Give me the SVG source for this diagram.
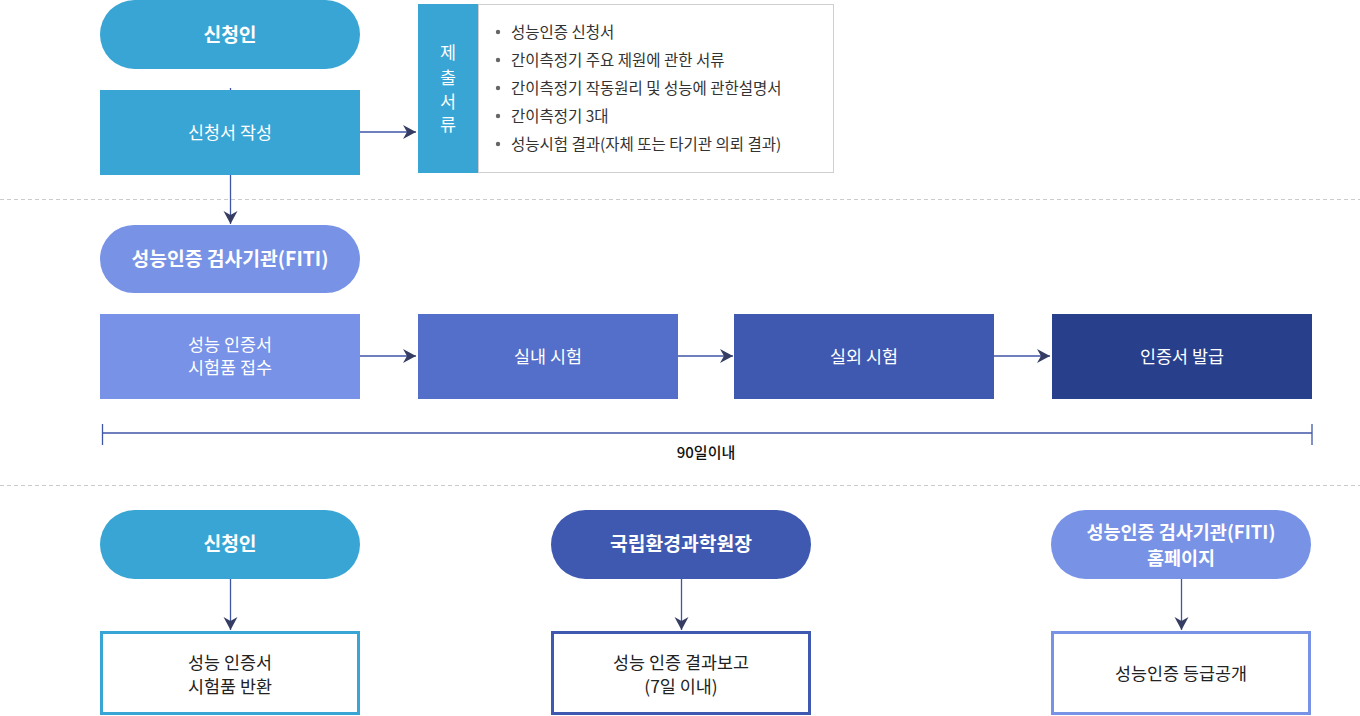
<svg xmlns="http://www.w3.org/2000/svg" width="1360" height="716" viewBox="0 0 1360 716">
<style>
text{font-family:"Noto Sans CJK KR","Noto Sans",sans-serif;text-anchor:middle}
.pt{font-size:19.3px;font-weight:700;fill:#fff}
.pt2{font-size:18.5px;font-weight:700;fill:#fff}
.bt{font-size:17.4px;fill:#fff}
.dt{font-size:15.5px;fill:#333;text-anchor:start}
.wt{font-size:17.4px;fill:#222}
.ln{stroke:#3f55a8;stroke-width:1.3;fill:none}
.dash{stroke:#cccccc;stroke-width:1;stroke-dasharray:4 3}
</style>
<defs>
<marker id="ah" markerUnits="userSpaceOnUse" markerWidth="14" markerHeight="16" refX="13" refY="7" orient="auto">
<path d="M0,0 L13,7 L0,14 L4,7 Z" fill="#353d62"/>
</marker>
</defs>
<rect width="1360" height="716" fill="#fff"/>
<line class="dash" x1="0" y1="199.5" x2="1360" y2="199.5"/>
<line class="dash" x1="0" y1="485.5" x2="1360" y2="485.5"/>

<g id="applicant-top">
<rect x="100" y="0" width="260" height="69" rx="34.5" fill="#39a5d4"/>
<text class="pt" x="230" y="42">신청인</text>
</g>
<g id="write-application">
<rect x="100" y="90" width="260" height="85" fill="#39a5d4"/>
<text class="bt" x="230" y="138.5">신청서 작성</text>
</g>
<g id="documents">
<rect x="418" y="4" width="60" height="169" fill="#39a5d4"/>
<rect x="478.5" y="4.5" width="355" height="168" fill="#fff" stroke="#cfcfcf" stroke-width="1"/>
<text class="bt" x="448" y="59">제</text>
<text class="bt" x="448" y="84">출</text>
<text class="bt" x="448" y="108">서</text>
<text class="bt" x="448" y="131">류</text>
<g fill="#666">
<circle cx="498" cy="32" r="2.2"/>
<circle cx="498" cy="60" r="2.2"/>
<circle cx="498" cy="88" r="2.2"/>
<circle cx="498" cy="116" r="2.2"/>
<circle cx="498" cy="144" r="2.2"/>
</g>
<text class="dt" x="511" y="37.5">성능인증 신청서</text>
<text class="dt" x="511" y="65.5">간이측정기 주요 제원에 관한 서류</text>
<text class="dt" x="511" y="93.5">간이측정기 작동원리 및 성능에 관한설명서</text>
<text class="dt" x="511" y="121.5">간이측정기 3대</text>
<text class="dt" x="511" y="149.5">성능시험 결과(자체 또는 타기관 의뢰 결과)</text>
</g>
<g id="fiti">
<rect x="100" y="225" width="260" height="68" rx="34" fill="#7892e6"/>
<text class="pt" x="230" y="265.5">성능인증 검사기관(FITI)</text>
</g>
<g id="receive">
<rect x="100" y="314" width="260" height="85" fill="#7892e8"/>
<text class="bt" x="230" y="351">성능 인증서</text>
<text class="bt" x="230" y="374">시험품 접수</text>
</g>
<g id="indoor">
<rect x="418" y="314" width="260" height="85" fill="#546fc9"/>
<text class="bt" x="548" y="362.5">실내 시험</text>
</g>
<g id="outdoor">
<rect x="734" y="314" width="260" height="85" fill="#4059b0"/>
<text class="bt" x="864" y="362.5">실외 시험</text>
</g>
<g id="issue">
<rect x="1052" y="314" width="260" height="85" fill="#283f8c"/>
<text class="bt" x="1182" y="362.5">인증서 발급</text>
</g>
<g id="timeline">
<line class="ln" x1="102" y1="433" x2="1312" y2="433"/>
<line class="ln" x1="102.5" y1="424" x2="102.5" y2="445"/>
<line class="ln" x1="1312" y1="424" x2="1312" y2="445"/>
<text x="706" y="457.5" style="font-size:15px;fill:#111;font-weight:500">90일이내</text>
</g>
<g id="applicant-bottom">
<rect x="100" y="510" width="260" height="69" rx="34.5" fill="#39a5d4"/>
<text class="pt" x="230" y="551">신청인</text>
</g>
<g id="nier">
<rect x="551" y="510" width="260" height="69" rx="34.5" fill="#3f59b1"/>
<text class="pt" x="681" y="551">국립환경과학원장</text>
</g>
<g id="fiti-home">
<rect x="1051" y="510" width="260" height="69" rx="34.5" fill="#7892e6"/>
<text class="pt2" x="1181" y="538.5">성능인증 검사기관(FITI)</text>
<text class="pt2" x="1181" y="564.5">홈페이지</text>
</g>
<g id="return">
<rect x="101.5" y="632.5" width="257" height="81" fill="#fff" stroke="#39a5d4" stroke-width="3"/>
<text class="wt" x="230" y="668.5">성능 인증서</text>
<text class="wt" x="230" y="692.5">시험품 반환</text>
</g>
<g id="report">
<rect x="552.5" y="632.5" width="257" height="81" fill="#fff" stroke="#3f59b1" stroke-width="3"/>
<text class="wt" x="681" y="668.5">성능 인증 결과보고</text>
<text class="wt" x="681" y="692.5">(7일 이내)</text>
</g>
<g id="publish">
<rect x="1052.5" y="632.5" width="257" height="81" fill="#fff" stroke="#7892e6" stroke-width="3"/>
<text class="wt" x="1181" y="680">성능인증 등급공개</text>
</g>
<g id="connectors">
<line class="ln" x1="230.5" y1="88" x2="230.5" y2="90"/>
<line class="ln" x1="360" y1="132" x2="416" y2="132" marker-end="url(#ah)"/>
<line class="ln" x1="230.5" y1="175" x2="230.5" y2="224" marker-end="url(#ah)"/>
<line class="ln" x1="360" y1="356" x2="416" y2="356" marker-end="url(#ah)"/>
<line class="ln" x1="678" y1="356" x2="733" y2="356" marker-end="url(#ah)"/>
<line class="ln" x1="994" y1="356" x2="1050" y2="356" marker-end="url(#ah)"/>
<line class="ln" x1="230.5" y1="579" x2="230.5" y2="630" marker-end="url(#ah)"/>
<line class="ln" x1="681.5" y1="579" x2="681.5" y2="630" marker-end="url(#ah)"/>
<line class="ln" x1="1181.5" y1="579" x2="1181.5" y2="630" marker-end="url(#ah)"/>
</g>
</svg>
